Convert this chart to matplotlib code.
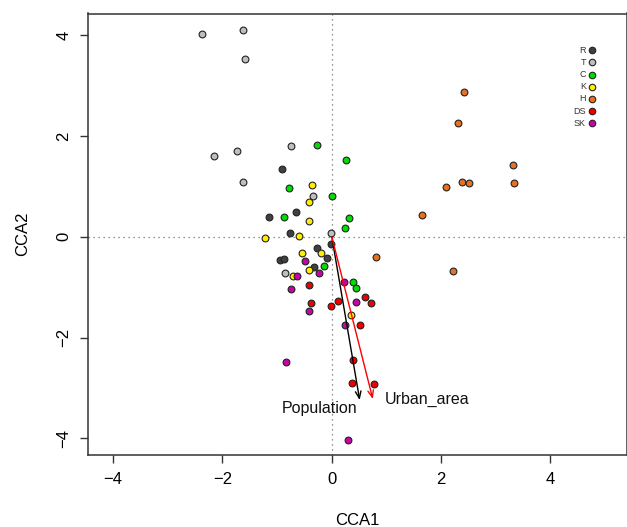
import matplotlib
matplotlib.use("Agg")
import matplotlib.pyplot as plt

plt.rcParams['font.family'] = ['Liberation Sans', 'DejaVu Sans']

groups = ["R", "T", "C", "K", "H", "DS", "SK"]
colors = ["#404040", "#bebebe", "#00dd00", "#ffee00", "#e87020", "#ee0000", "#cc00aa"]

R_x = [-0.91, -1.15, -0.65, -0.76, -0.02, -0.28, -0.09, -0.94, -0.87, -0.33]
R_y = [1.35, 0.40, 0.49, 0.07, -0.14, -0.23, -0.43, -0.46, -0.44, -0.59]
T_x = [-2.38, -1.63, -1.59, -2.16, -1.73, -1.62, -0.75, -0.35, -0.02, -0.85]
T_y = [4.02, 4.10, 3.53, 1.60, 1.70, 1.08, 1.81, 0.80, 0.07, -0.71]
C_x = [-0.28, 0.26, -0.79, 0.01, -0.88, 0.31, 0.25, -0.15, 0.39, 0.44]
C_y = [1.82, 1.53, 0.97, 0.81, 0.39, 0.37, 0.17, -0.58, -0.90, -1.01]
K_x = [-0.36, -0.42, -0.41, -1.23, -0.60, -0.55, -0.19, -0.42, -0.71, 0.35]
K_y = [1.02, 0.69, 0.32, -0.03, 0.02, -0.32, -0.33, -0.66, -0.77, -1.55]
H_x = [2.41, 2.30, 3.32, 2.39, 2.51, 2.08, 3.34, 1.65, 2.22, 0.81]
H_y = [2.88, 2.25, 1.43, 1.08, 1.06, 0.99, 1.06, 0.44, -0.68, -0.40]
DS_x = [-0.41, -0.38, 0.11, -0.02, 0.61, 0.72, 0.51, 0.39, 0.37, 0.77]
DS_y = [-0.96, -1.32, -1.28, -1.37, -1.20, -1.31, -1.75, -2.44, -2.91, -2.93]
SK_x = [-0.49, -0.24, -0.64, 0.23, -0.74, 0.44, -0.42, 0.25, -0.83, 0.29]
SK_y = [-0.48, -0.71, -0.78, -0.90, -1.04, -1.29, -1.48, -1.75, -2.49, -4.03]

xs = [R_x, T_x, C_x, K_x, H_x, DS_x, SK_x]
ys = [R_y, T_y, C_y, K_y, H_y, DS_y, SK_y]

arrow_names = ["Population", "Urban_area"]
arrow_x = [0.51, 0.75]
arrow_y = [-3.24, -3.22]
arrow_colors = ["black", "red"]
label_x = [-0.22, 1.74]
label_y = [-3.40, -3.22]

fig = plt.figure(figsize=(6.27, 5.27), dpi=100)
ax = fig.add_axes([88 / 627, 72 / 527, 539 / 627, 441.5 / 527])

ax.axhline(0, color="#707070", lw=0.9, ls=(0, (1, 3)), zorder=1)
ax.axvline(0, color="#707070", lw=0.9, ls=(0, (1, 3)), zorder=1)

for gx, gy, c in zip(xs, ys, colors):
    ax.scatter(gx, gy, s=24, c=c, edgecolors="#222222", linewidths=0.8, zorder=3)

for ax_, ay_, c in zip(arrow_x, arrow_y, arrow_colors):
    ax.annotate("", xy=(ax_, ay_), xytext=(0, 0),
                arrowprops=dict(arrowstyle="->,head_length=0.5,head_width=0.2",
                                color=c, lw=1.0, shrinkA=0, shrinkB=0), zorder=4)
for name, lx, ly in zip(arrow_names, label_x, label_y):
    ax.text(lx, ly, name, ha="center", va="center", fontsize=11.5, color="#111111", zorder=5)

# legend
for i, (g, c) in enumerate(zip(groups, colors)):
    yy = 0.917 - i * 0.0276
    ax.scatter([0.935], [yy], s=22, c=c, edgecolors="#222222", linewidths=0.8,
               transform=ax.transAxes, zorder=6, clip_on=False)
    ax.text(0.924, yy, g, ha="right", va="center", fontsize=6.5, color="#333333",
            transform=ax.transAxes)

ax.set_xlim(-4.46, 5.40)
ax.set_ylim(-4.33, 4.43)
ax.set_xticks([-4, -2, 0, 2, 4])
ax.set_yticks([-4, -2, 0, 2, 4])
ax.tick_params(axis="both", labelsize=12, length=6, width=1, color="#333333", pad=6)
for lab in ax.get_yticklabels():
    lab.set_rotation(90)
    lab.set_va("center")
for sp in ax.spines.values():
    sp.set_color("#333333")
    sp.set_linewidth(1.1)

ax.set_xlabel("CCA1", fontsize=12, labelpad=19)
ax.set_ylabel("CCA2", fontsize=12, labelpad=19)

fig.savefig("out.png", dpi=100)
